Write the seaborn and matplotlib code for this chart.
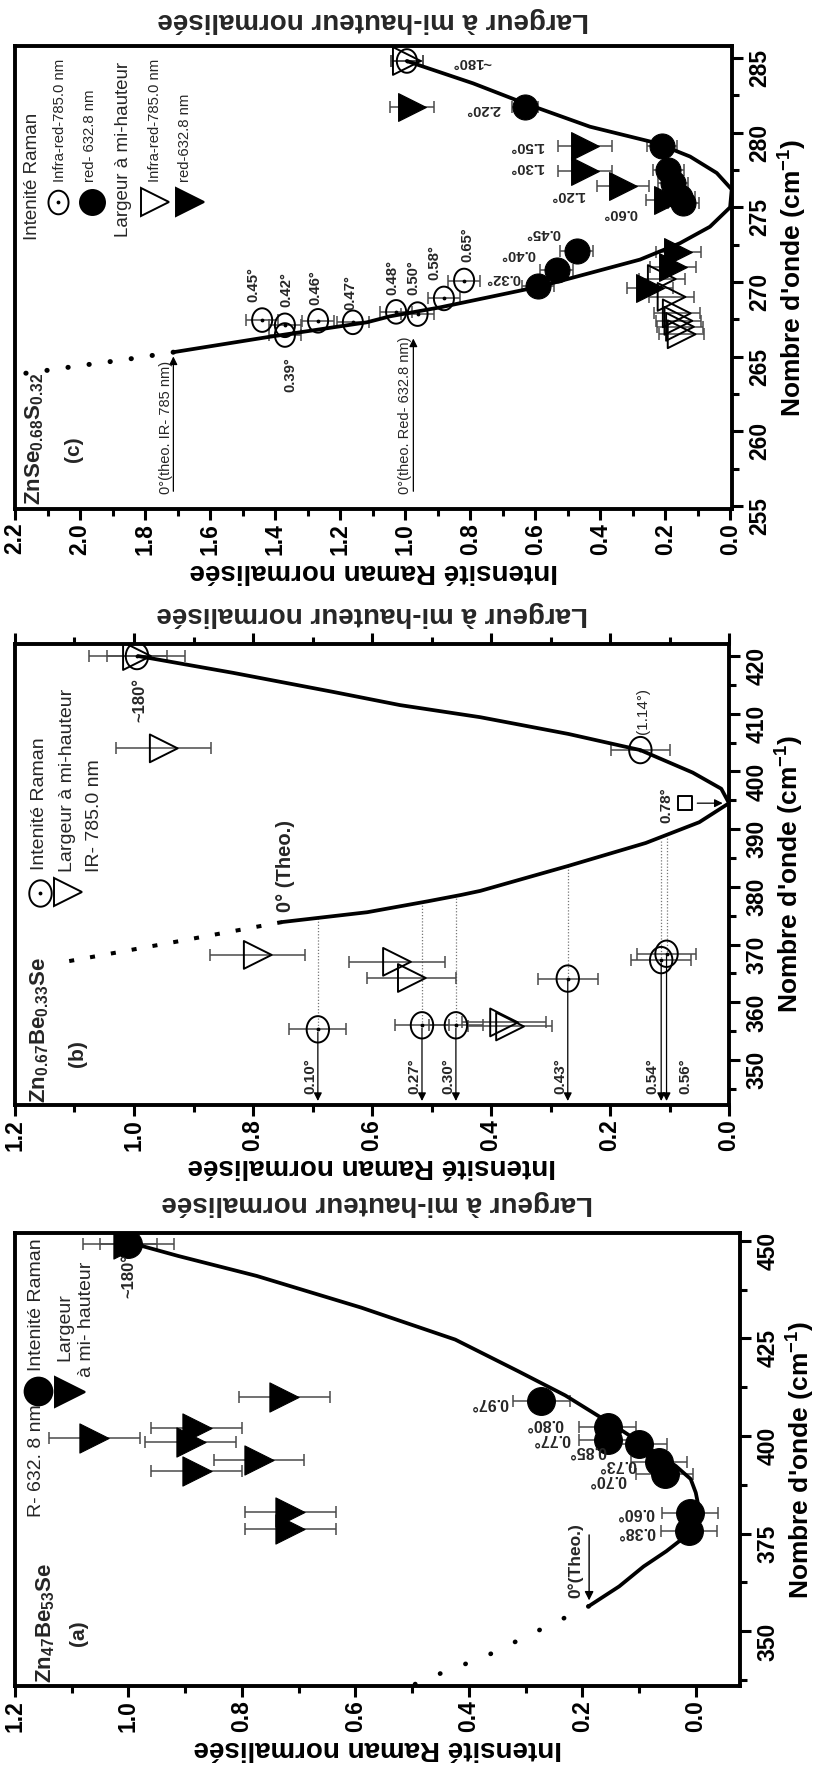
import numpy as np
import matplotlib
matplotlib.use("Agg")
import matplotlib.pyplot as plt
import seaborn as sns
from matplotlib.path import Path
from matplotlib.ticker import MultipleLocator, FormatStrFormatter

# ---------------- data : panel (a) Zn47Be53Se, R-632.8 nm ----------------
a_int_wn = [449.2, 408.9, 402.3, 399.0, 398.0, 393.3, 390.3, 380.3, 375.7]
a_int_val = [1.00, 0.272, 0.155, 0.155, 0.100, 0.065, 0.055, 0.010, 0.012]
a_int_err = [0.08, 0.05, 0.05, 0.05, 0.05, 0.05, 0.05, 0.05, 0.05]
a_fw_wn = [449.2, 409.9, 399.5, 402.0, 398.6, 393.9, 391.0, 380.5, 376.1]
a_fw_val = [1.00, 0.725, 1.060, 0.880, 0.890, 0.770, 0.880, 0.715, 0.715]
a_fw_err = [0.05, 0.08, 0.08, 0.08, 0.08, 0.08, 0.08, 0.08, 0.08]
a_angles = ["0.97°", "0.80°", "0.77°", "0.85°", "0.73°", "0.70°", "0.60°", "0.38°"]
a_angle_val = [0.364, 0.267, 0.255, 0.190, 0.138, 0.155, 0.107, 0.105]
a_angle_wn = [408.5, 403.3, 399.4, 396.4, 392.6, 388.8, 380.5, 375.5]
a_curve_val = [0.189, 0.135, 0.092, 0.052, 0.028, 0.006, -0.005, 0.000, 0.009, 0.035,
               0.065, 0.129, 0.230, 0.313, 0.424, 0.590, 0.774, 0.912, 0.977, 1.000]
a_curve_wn = [356.4, 361.5, 366.6, 370.5, 373.2, 377.5, 381.9, 385.5, 389.0, 392.3,
              395.2, 401.3, 410.4, 416.6, 424.7, 432.9, 441.0, 446.1, 448.7, 449.5]
a_dot_val = [0.189, 0.276, 0.369, 0.470, 0.540]
a_dot_wn = [356.4, 350.3, 343.7, 338.1, 333.5]

# ---------------- data : panel (b) Zn0.67Be0.33Se, IR-785.0 nm ----------------
b_int_wn = [420.0, 403.7, 355.3, 356.0, 356.0, 364.1, 367.3, 368.4]
b_int_val = [0.995, 0.149, 0.691, 0.516, 0.459, 0.271, 0.114, 0.105]
b_int_err = [0.08, 0.05, 0.048, 0.045, 0.045, 0.05, 0.05, 0.05]
b_fw_wn = [420.0, 404.0, 368.2, 367.0, 364.2, 356.5, 355.8]
b_fw_val = [0.995, 0.950, 0.792, 0.558, 0.533, 0.378, 0.368]
b_fw_err = [0.05, 0.08, 0.08, 0.08, 0.075, 0.07, 0.07]
b_arrow_labels = ["0.10°", "0.27°", "0.30°", "0.43°", "0.54°", "0.56°"]
b_arrow_val = [0.691, 0.516, 0.459, 0.271, 0.114, 0.105]
b_arrow_from = [355.3, 356.0, 356.0, 364.1, 367.3, 368.4]
b_arrow_curve = [374.6, 377.4, 378.5, 383.6, 388.0, 388.4]
b_arrow_lab_val = [0.704, 0.529, 0.472, 0.284, 0.129, 0.074]
b_curve_val = [0.751, 0.608, 0.506, 0.450, 0.418, 0.271, 0.140, 0.050, 0.000, 0.013,
               0.061, 0.149, 0.270, 0.418, 0.553, 0.666, 0.834, 0.993]
b_curve_wn = [373.9, 375.6, 377.5, 378.6, 379.3, 383.6, 387.6, 391.2, 394.5, 397.0,
              399.8, 403.7, 406.5, 409.4, 411.5, 413.8, 417.1, 420.0]
b_dot_val = [0.751, 0.939, 1.116]
b_dot_wn = [373.9, 370.3, 367.0]
b_square = (0.074, 394.5)

# ---------------- data : panel (c) ZnSe0.68S0.32 ----------------
c_ir_wn = [284.8, 267.45, 267.1, 266.45, 267.4, 267.3, 268.0, 267.85, 268.9, 270.1]
c_ir_val = [0.995, 1.440, 1.370, 1.370, 1.268, 1.161, 1.028, 0.962, 0.881, 0.819]
c_ir_err = [0.05, 0.05, 0.05, 0.05, 0.05, 0.05, 0.05, 0.05, 0.05, 0.05]
c_ir_labels = ["0.45°", "0.42°", "0.39°", "0.46°", "0.47°", "0.48°", "0.50°", "0.58°", "0.65°"]
c_ir_lab_val = [1.468, 1.364, 1.354, 1.277, 1.170, 1.041, 0.976, 0.909, 0.810]
c_ir_lab_wn = [269.8, 269.5, 263.8, 269.6, 269.3, 270.3, 270.3, 271.3, 272.5]
c_red_wn = [281.7, 279.1, 277.5, 276.6, 275.7, 275.3, 272.1, 270.8, 269.7]
c_red_val = [0.632, 0.211, 0.191, 0.176, 0.155, 0.145, 0.473, 0.534, 0.591]
c_red_err = [0.04, 0.047, 0.047, 0.047, 0.047, 0.047, 0.05, 0.05, 0.05]
c_fwir_wn = [284.8, 270.2, 269.0, 267.9, 267.4, 267.0, 266.5]
c_fwir_val = [0.995, 0.211, 0.181, 0.165, 0.160, 0.155, 0.150]
c_fwir_err = [0.05, 0.07, 0.07, 0.07, 0.07, 0.07, 0.07]
c_fwred_wn = [281.7, 279.1, 277.4, 276.4, 275.5, 272.0, 271.0, 269.6]
c_fwred_val = [0.980, 0.447, 0.447, 0.329, 0.191, 0.160, 0.176, 0.247]
c_fwred_err = [0.068, 0.083, 0.083, 0.08, 0.07, 0.07, 0.07, 0.07]
c_red_labels = ["~180°", "2.20°", "1.50°", "1.30°", "1.20°", "0.60°", "0.45°", "0.40°", "0.32°"]
c_red_lab_val = [0.796, 0.760, 0.627, 0.627, 0.500, 0.340, 0.576, 0.653, 0.700]
c_red_lab_wn = [284.7, 281.6, 279.1, 277.7, 275.8, 274.6, 273.3, 271.9, 270.3]
c_curve_val = [1.713, 1.426, 1.118, 1.047, 0.893, 0.739, 0.586, 0.432, 0.278, 0.155,
               0.063, 0.001, -0.004, 0.042, 0.124, 0.227, 0.432, 0.637, 0.791, 0.955, 0.995]
c_curve_wn = [265.3, 266.3, 267.3, 267.7, 268.3, 269.0, 269.7, 270.6, 271.5, 272.6,
              273.7, 275.0, 276.2, 277.3, 278.4, 279.3, 280.4, 282.0, 283.3, 284.5, 284.8]
c_dot_val = [1.713, 1.862, 2.000, 2.128, 2.200]
c_dot_wn = [265.3, 264.8, 264.4, 264.0, 263.8]

# ---------------- style ----------------
sns.set_theme(style="white")
plt.rcParams["font.family"] = ["Liberation Sans", "DejaVu Sans"]
plt.rcParams["mathtext.fontset"] = "custom"
plt.rcParams["mathtext.rm"] = "Liberation Sans"
plt.rcParams["mathtext.bf"] = "Liberation Sans:bold"
plt.rcParams["mathtext.it"] = "Liberation Sans:italic"
plt.rcParams["mathtext.default"] = "bf"

theta = np.linspace(0, 2 * np.pi, 61)
ELL = Path(np.column_stack([0.85 * np.cos(theta), np.sin(theta)]), closed=True)
ECOL = "#4a4a4a"

fig = plt.figure(figsize=(8.15, 17.71), dpi=100)
ax_c = fig.add_axes([0.0184, 0.7126, 0.8798, 0.2614])
ax_b = fig.add_axes([0.0184, 0.3761, 0.8761, 0.2603])
ax_a = fig.add_axes([0.0184, 0.0480, 0.8896, 0.2558])


def style(ax, xlim, ylim, xmaj, xmin, ymaj, ymin, toptick=False, toplab=1.035):
    ax.set_xlim(*xlim)
    ax.set_ylim(*ylim)
    ax.yaxis.tick_right()
    ax.yaxis.set_label_position("right")
    ax.xaxis.set_major_locator(MultipleLocator(xmaj))
    ax.xaxis.set_minor_locator(MultipleLocator(xmin))
    ax.xaxis.set_major_formatter(FormatStrFormatter("%.1f"))
    ax.yaxis.set_major_locator(MultipleLocator(ymaj))
    ax.yaxis.set_minor_locator(MultipleLocator(ymin))
    ax.tick_params(axis="x", which="both", direction="out", bottom=True, top=toptick,
                   labelbottom=True, labeltop=False, labelrotation=90, labelsize=16.5,
                   color="black", width=2.2, pad=2)
    ax.tick_params(axis="y", which="both", direction="out", right=True, left=False,
                   labelright=True, labelleft=False, labelrotation=90, labelsize=16.5,
                   color="black", width=2.2, pad=4)
    ax.tick_params(which="major", length=8)
    ax.tick_params(which="minor", length=5)
    for lb in ax.get_xticklabels() + ax.get_yticklabels():
        lb.set_fontweight("bold")
        lb.set_color("black")
    for s in ax.spines.values():
        s.set_linewidth(2.8)
        s.set_color("black")
    ax.set_xlabel("Intensité Raman normalisée", rotation=180, fontsize=20,
                  fontweight="bold", labelpad=2, color="black")
    ax.set_ylabel("Nombre d'onde (cm$^{-1}$)", rotation=90, fontsize=19,
                  fontweight="bold", labelpad=4, color="black")
    ax.text(0.5, toplab, "Largeur à mi-hauteur normalisée", transform=ax.transAxes,
            rotation=180, ha="center", va="bottom", fontsize=20, fontweight="bold")
    ax.grid(False)


def vtext(ax, x, y, s, size=11, weight="bold", ha="left", rot=90, trans=None):
    ax.text(x, y, s, rotation=rot, rotation_mode="anchor", ha=ha, va="center",
            fontsize=size, fontweight=weight,
            transform=trans if trans is not None else ax.transData, zorder=6)


def curve(ax, xv, yv, dx, dy, dotted_style, dlw, cap):
    sns.lineplot(x=xv, y=yv, sort=False, estimator=None, color="black", lw=2.7, ax=ax)
    ax.lines[-1].set_zorder(3)
    ax.plot(dx, dy, color="black", lw=dlw, linestyle=dotted_style,
            dash_capstyle=cap, zorder=3)


def filled(ax, xv, yv, marker, size):
    sns.scatterplot(x=xv, y=yv, marker=marker, s=size ** 2, color="black",
                    edgecolor="black", linewidth=0.8, ax=ax, zorder=5, legend=False)


def hollow(ax, xv, yv, marker, size, dot=False):
    sns.scatterplot(x=xv, y=yv, marker=marker, s=size ** 2, color="none",
                    edgecolor="black", linewidth=1.4, ax=ax, zorder=5, legend=False)
    if dot:
        ax.plot(xv, yv, ".", color="black", ms=3.5, zorder=6)


def ebar(ax, xv, yv, err, cap=4.5):
    ax.errorbar(xv, yv, xerr=err, fmt="none", ecolor=ECOL, elinewidth=1.1,
                capsize=cap, capthick=1.1, zorder=2)


def key(ax, x, y, marker, size, fill, dot=False):
    ax.plot([x], [y], marker=marker, ms=size, mfc="black" if fill else "none",
            mec="black", mew=1.4, ls="none", transform=ax.transAxes, zorder=6,
            clip_on=False)
    if dot:
        ax.plot([x], [y], ".", color="black", ms=3.5, transform=ax.transAxes, zorder=7)


# ======================= panel (a) =======================
ax = ax_a
ebar(ax, a_fw_val, a_fw_wn, a_fw_err)
ebar(ax, a_int_val, a_int_wn, a_int_err)
curve(ax, a_curve_val, a_curve_wn, a_dot_val, a_dot_wn, (0, (0.05, 5.7)), 3.4, "round")
filled(ax, a_fw_val, a_fw_wn, ">", 21)
filled(ax, a_int_val, a_int_wn, "o", 20)
for s_, xv, yv in zip(a_angles, a_angle_val, a_angle_wn):
    ax.text(xv, yv, s_, rotation=180, ha="center", va="center", fontsize=11.5,
            fontweight="bold", zorder=6)
vtext(ax, a_int_val[0], 441.0, "~180°", size=12, ha="center")
ax.annotate("", xy=(0.188, 357.2), xytext=(0.188, 375.4),
            arrowprops=dict(arrowstyle="-|>", color="black", lw=1.0, mutation_scale=13))
vtext(ax, 0.212, 368.0, "0°(Theo.)", size=12.5, ha="center")
T = ax.transAxes
key(ax, 0.032, 0.652, "o", 20, True)
key(ax, 0.076, 0.650, ">", 21, True)
vtext(ax, 0.030, 0.696, "Intenité Raman", size=14, weight="normal", trans=T)
vtext(ax, 0.069, 0.718, "Largeur", size=14, weight="normal", trans=T)
vtext(ax, 0.099, 0.683, "à mi- hauteur", size=14, weight="normal", trans=T)
vtext(ax, 0.030, 0.372, "R- 632. 8 nm", size=14, weight="normal", trans=T)
vtext(ax, 0.042, 0.006, "Zn$_{47}$Be$_{53}$Se", size=16, weight="bold", trans=T)
vtext(ax, 0.088, 0.117, "(a)", size=15, weight="bold", ha="center", trans=T)
style(ax, (1.2, -0.078), (336.0, 452.0), 0.2, 0.1, 25, 12.5, toplab=1.038)

# ======================= panel (b) =======================
ax = ax_b
ebar(ax, b_fw_val, b_fw_wn, b_fw_err)
ebar(ax, b_int_val, b_int_wn, b_int_err)
curve(ax, b_curve_val, b_curve_wn, b_dot_val, b_dot_wn, (0, (1.25, 4.0)), 2.9, "butt")
for xv, y0, y1 in zip(b_arrow_val, b_arrow_curve, b_arrow_from):
    ax.plot([xv, xv], [y0, y1], color="#777777", lw=0.9, linestyle=(0, (1, 1.5)), zorder=1)
    ax.annotate("", xy=(xv, 342.4), xytext=(xv, y1),
                arrowprops=dict(arrowstyle="-|>", color="black", lw=0.9, mutation_scale=12))
for s_, xv in zip(b_arrow_labels, b_arrow_lab_val):
    vtext(ax, xv, 347.2, s_, size=11, ha="center")
hollow(ax, b_fw_val, b_fw_wn, ">", 20)
hollow(ax, b_int_val, b_int_wn, ELL, 19, dot=True)
hollow(ax, [b_square[0]], [b_square[1]], "s", 10)
ax.annotate("", xy=(0.006, 394.5), xytext=(0.058, 394.5),
            arrowprops=dict(arrowstyle="-|>", color="black", lw=0.9, mutation_scale=12))
vtext(ax, 0.105, 394.2, "0.78°", size=11, ha="center")
vtext(ax, 0.990, 412.4, "~180°", size=12, ha="center")
vtext(ax, 0.144, 410.5, "(1.14°)", size=11, weight="normal", ha="center")
vtext(ax, 0.746, 375.6, "0° (Theo.)", size=14.5, weight="bold")
T = ax.transAxes
key(ax, 0.035, 0.460, ELL, 19, False, dot=True)
key(ax, 0.074, 0.462, ">", 20, False)
vtext(ax, 0.035, 0.510, "Intenité Raman", size=14, weight="normal", trans=T)
vtext(ax, 0.074, 0.505, "Largeur à mi-hauteur", size=14, weight="normal", trans=T)
vtext(ax, 0.112, 0.505, "IR- 785.0 nm", size=14, weight="normal", trans=T)
vtext(ax, 0.035, 0.004, "Zn$_{0.67}$Be$_{0.33}$Se", size=16, weight="bold", trans=T)
vtext(ax, 0.087, 0.111, "(b)", size=15, weight="bold", ha="center", trans=T)
style(ax, (1.2, 0.0), (342.2, 422.1), 0.2, 0.1, 10, 5, toptick=True, toplab=1.037)

# ======================= panel (c) =======================
ax = ax_c
ebar(ax, c_fwir_val, c_fwir_wn, c_fwir_err)
ebar(ax, c_fwred_val, c_fwred_wn, c_fwred_err)
ebar(ax, c_ir_val, c_ir_wn, c_ir_err)
ebar(ax, c_red_val, c_red_wn, c_red_err)
curve(ax, c_curve_val, c_curve_wn, c_dot_val, c_dot_wn, (0, (0.05, 4.2)), 3.6, "round")
hollow(ax, c_fwir_val, c_fwir_wn, ">", 20)
filled(ax, c_fwred_val, c_fwred_wn, ">", 20)
hollow(ax, c_ir_val, c_ir_wn, ELL, 17, dot=True)
filled(ax, c_red_val, c_red_wn, "o", 18)
for s_, xv, yv in zip(c_ir_labels, c_ir_lab_val, c_ir_lab_wn):
    vtext(ax, xv, yv, s_, size=10.7, ha="center")
for s_, xv, yv in zip(c_red_labels, c_red_lab_val, c_red_lab_wn):
    ax.text(xv, yv, s_, rotation=180, ha="center", va="center", fontsize=10.7,
            fontweight="bold", zorder=6)
ax.annotate("", xy=(1.713, 265.2), xytext=(1.713, 255.8),
            arrowprops=dict(arrowstyle="-|>", color="black", lw=0.9, mutation_scale=12))
vtext(ax, 1.737, 255.8, "0°(theo. IR- 785 nm)", size=10.5, weight="normal")
ax.annotate("", xy=(0.975, 266.4), xytext=(0.975, 255.8),
            arrowprops=dict(arrowstyle="-|>", color="black", lw=0.9, mutation_scale=12))
vtext(ax, 1.000, 255.8, "0°(theo. Red- 632.8 nm)", size=10.5, weight="normal")
T = ax.transAxes
key(ax, 0.060, 0.663, ELL, 17, False, dot=True)
key(ax, 0.107, 0.663, "o", 18, True)
key(ax, 0.195, 0.663, ">", 20, False)
key(ax, 0.244, 0.663, ">", 20, True)
vtext(ax, 0.025, 0.581, "Intenité Raman", size=13.5, weight="normal", trans=T)
vtext(ax, 0.063, 0.706, "Infra-red-785.0 nm", size=10.7, weight="normal", trans=T)
vtext(ax, 0.105, 0.706, "red- 632.8 nm", size=10.7, weight="normal", trans=T)
vtext(ax, 0.151, 0.587, "Largeur à mi-hauteur", size=13.5, weight="normal", trans=T)
vtext(ax, 0.195, 0.706, "Infra-red-785.0 nm", size=10.7, weight="normal", trans=T)
vtext(ax, 0.237, 0.706, "red-632.8 nm", size=10.7, weight="normal", trans=T)
vtext(ax, 0.028, 0.009, "ZnSe$_{0.68}$S$_{0.32}$", size=16, weight="bold", trans=T)
vtext(ax, 0.082, 0.130, "(c)", size=15, weight="bold", ha="center", trans=T)
style(ax, (2.2, -0.005), (254.8, 285.8), 0.2, 0.1, 5, 2.5, toplab=1.028)

fig.savefig("out.png", dpi=100, facecolor="white")
